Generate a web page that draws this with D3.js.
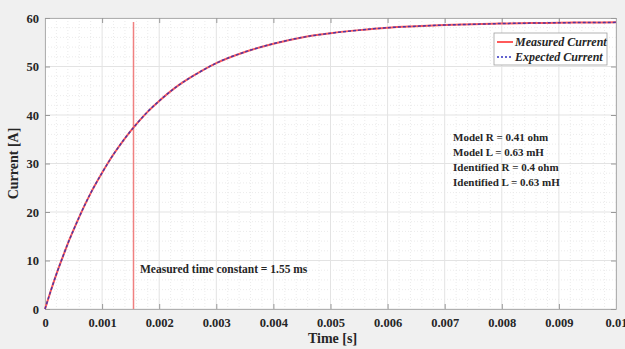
<!DOCTYPE html>
<html><head><meta charset="utf-8">
<script src="https://cdn.jsdelivr.net/npm/d3@7"></script>
<style>
html,body{margin:0;padding:0;background:#f0f0f0;}
svg{display:block;font-family:"Liberation Serif","Times New Roman",serif;}
</style></head>
<body>
<script>
// Data
const timeS = [0,0.0001,0.0002,0.0003,0.0004,0.0005,0.0006,0.0008,0.001,0.0012,0.0014,0.0016,0.0018,0.002,0.0023,0.0026,0.003,0.0035,0.004,0.0045,0.005,0.0055,0.006,0.0065,0.007,0.0075,0.008,0.0085,0.009,0.0095,0.01];
const measuredA = [0,3.7,7.2,10.4,13.5,16.3,19.0,23.9,28.1,31.9,35.2,38.1,40.7,42.9,45.8,48.1,50.7,53.0,54.7,56.0,56.85,57.5,58.0,58.3,58.55,58.7,58.86,58.95,59.02,59.07,59.1];
const expectedA = [0,3.7,7.2,10.4,13.5,16.3,19.0,23.9,28.1,31.9,35.2,38.1,40.7,42.9,45.8,48.1,50.7,53.0,54.7,56.0,56.85,57.5,58.0,58.3,58.55,58.7,58.86,58.95,59.02,59.07,59.1];
const xTicks = [0,0.001,0.002,0.003,0.004,0.005,0.006,0.007,0.008,0.009,0.01];
const xTickLabels = ["0","0.001","0.002","0.003","0.004","0.005","0.006","0.007","0.008","0.009","0.01"];
const yTicks = [0,10,20,30,40,50,60];
const timeConstant = 0.00155;
const markerTop = 59.2;
const seriesNames = ["Measured Current","Expected Current"];
const notes = ["Model R = 0.41 ohm","Model L = 0.63 mH","Identified R = 0.4 ohm","Identified L = 0.63 mH"];
const tcNote = "Measured time constant = 1.55 ms";

const W=625,H=349;
const m={l:45,r:9,t:18,b:40};
const svg=d3.select("body").append("svg").attr("width",W).attr("height",H);
svg.append("rect").attr("width",W).attr("height",H).attr("fill","#f0f0f0");
const x=d3.scaleLinear().domain([0,0.01]).range([m.l,W-m.r]);
const y=d3.scaleLinear().domain([0,60]).range([H-m.b,m.t]);
const pw=W-m.r-m.l, ph=H-m.b-m.t;

svg.append("rect").attr("x",m.l).attr("y",m.t).attr("width",pw).attr("height",ph).attr("fill","#fff");

// minor grid
const g=svg.append("g");
const xMinor=d3.range(0,0.01+1e-9,0.0002).filter(v=>Math.abs(v/0.001-Math.round(v/0.001))>1e-6);
const yMinor=d3.range(0,60.001,2).filter(v=>v%10!==0);
g.selectAll(".xm").data(xMinor).join("line").attr("x1",d=>x(d)).attr("x2",d=>x(d)).attr("y1",m.t).attr("y2",H-m.b)
 .attr("stroke","#e6e6e6").attr("stroke-width",0.8).attr("stroke-dasharray","1,2");
g.selectAll(".ym").data(yMinor).join("line").attr("y1",d=>y(d)).attr("y2",d=>y(d)).attr("x1",m.l).attr("x2",W-m.r)
 .attr("stroke","#e6e6e6").attr("stroke-width",0.8).attr("stroke-dasharray","1,2");
// major grid
g.selectAll(".xg").data(xTicks).join("line").attr("x1",d=>x(d)).attr("x2",d=>x(d)).attr("y1",m.t).attr("y2",H-m.b)
 .attr("stroke","#e3e3e3").attr("stroke-width",1);
g.selectAll(".yg").data(yTicks).join("line").attr("y1",d=>y(d)).attr("y2",d=>y(d)).attr("x1",m.l).attr("x2",W-m.r)
 .attr("stroke","#e3e3e3").attr("stroke-width",1);

// axes
const fmtX=(d,i)=>xTickLabels[i];
const xa=svg.append("g").attr("transform",`translate(0,${H-m.b})`)
 .call(d3.axisBottom(x).tickValues(xTicks).tickFormat(fmtX).tickSizeInner(-5).tickSizeOuter(0).tickPadding(9));
const xt=svg.append("g").attr("transform",`translate(0,${m.t})`)
 .call(d3.axisTop(x).tickValues(xTicks).tickFormat("").tickSizeInner(-5).tickSizeOuter(0));
const ya=svg.append("g").attr("transform",`translate(${m.l},0)`)
 .call(d3.axisLeft(y).tickValues(yTicks).tickSizeInner(-5).tickSizeOuter(0).tickPadding(6));
const yr=svg.append("g").attr("transform",`translate(${W-m.r},0)`)
 .call(d3.axisRight(y).tickValues(yTicks).tickFormat("").tickSizeInner(-5).tickSizeOuter(0));
[xa,xt,ya,yr].forEach(a=>{a.select(".domain").attr("stroke","#b0b0b0");a.selectAll(".tick line").attr("stroke","#999");
 a.selectAll("text").attr("fill","#262626").attr("font-family","Liberation Serif").attr("font-weight","bold").attr("font-size",12.5);});

// axis labels
svg.append("text").attr("x",x(0.005)+2).attr("y",343).attr("text-anchor","middle").attr("font-weight","bold").attr("font-size",14).attr("fill","#262626").text("Time [s]");
svg.append("text").attr("transform",`translate(18,${y(30)}) rotate(-90)`).attr("text-anchor","middle").attr("font-weight","bold").attr("font-size",14).attr("fill","#262626").text("Current [A]");

// time constant marker
svg.append("line").attr("x1",x(timeConstant)).attr("x2",x(timeConstant)).attr("y1",y(0)).attr("y2",y(markerTop))
 .attr("stroke","#f08080").attr("stroke-width",1.5);

// lines
const line=d3.line().x((d,i)=>x(timeS[i])).y(d=>y(d)).curve(d3.curveMonotoneX);
svg.append("path").attr("d",line(measuredA)).attr("fill","none").attr("stroke","#ff5a5a").attr("stroke-width",2);
svg.append("path").attr("d",line(expectedA)).attr("fill","none").attr("stroke","#3030b0").attr("stroke-width",1.5).attr("stroke-dasharray","3,2").attr("opacity",0.85);

// legend
const lg=svg.append("g");
lg.append("rect").attr("x",494).attr("y",33).attr("width",113).attr("height",32).attr("fill","#fff").attr("stroke","#a0a0a0").attr("stroke-width",0.8);
lg.append("line").attr("x1",497).attr("x2",513).attr("y1",42).attr("y2",42).attr("stroke","#ff5a5a").attr("stroke-width",2);
lg.append("line").attr("x1",497).attr("x2",513).attr("y1",57).attr("y2",57).attr("stroke","#3030c0").attr("stroke-width",1.5).attr("stroke-dasharray","2,2");
lg.selectAll("text").data(seriesNames).join("text").attr("x",515).attr("y",(d,i)=>46+i*15)
 .attr("font-style","italic").attr("font-weight","bold").attr("font-size",12).attr("fill","#262626").text(d=>d);

// notes
svg.selectAll(".note").data(notes).join("text").attr("x",453).attr("y",(d,i)=>141+i*15)
 .attr("font-weight","bold").attr("font-size",11).attr("fill","#262626").text(d=>d);
svg.append("text").attr("x",140).attr("y",273).attr("font-weight","bold").attr("font-size",11.5).attr("fill","#262626").text(tcNote);
</script>
</body></html>
